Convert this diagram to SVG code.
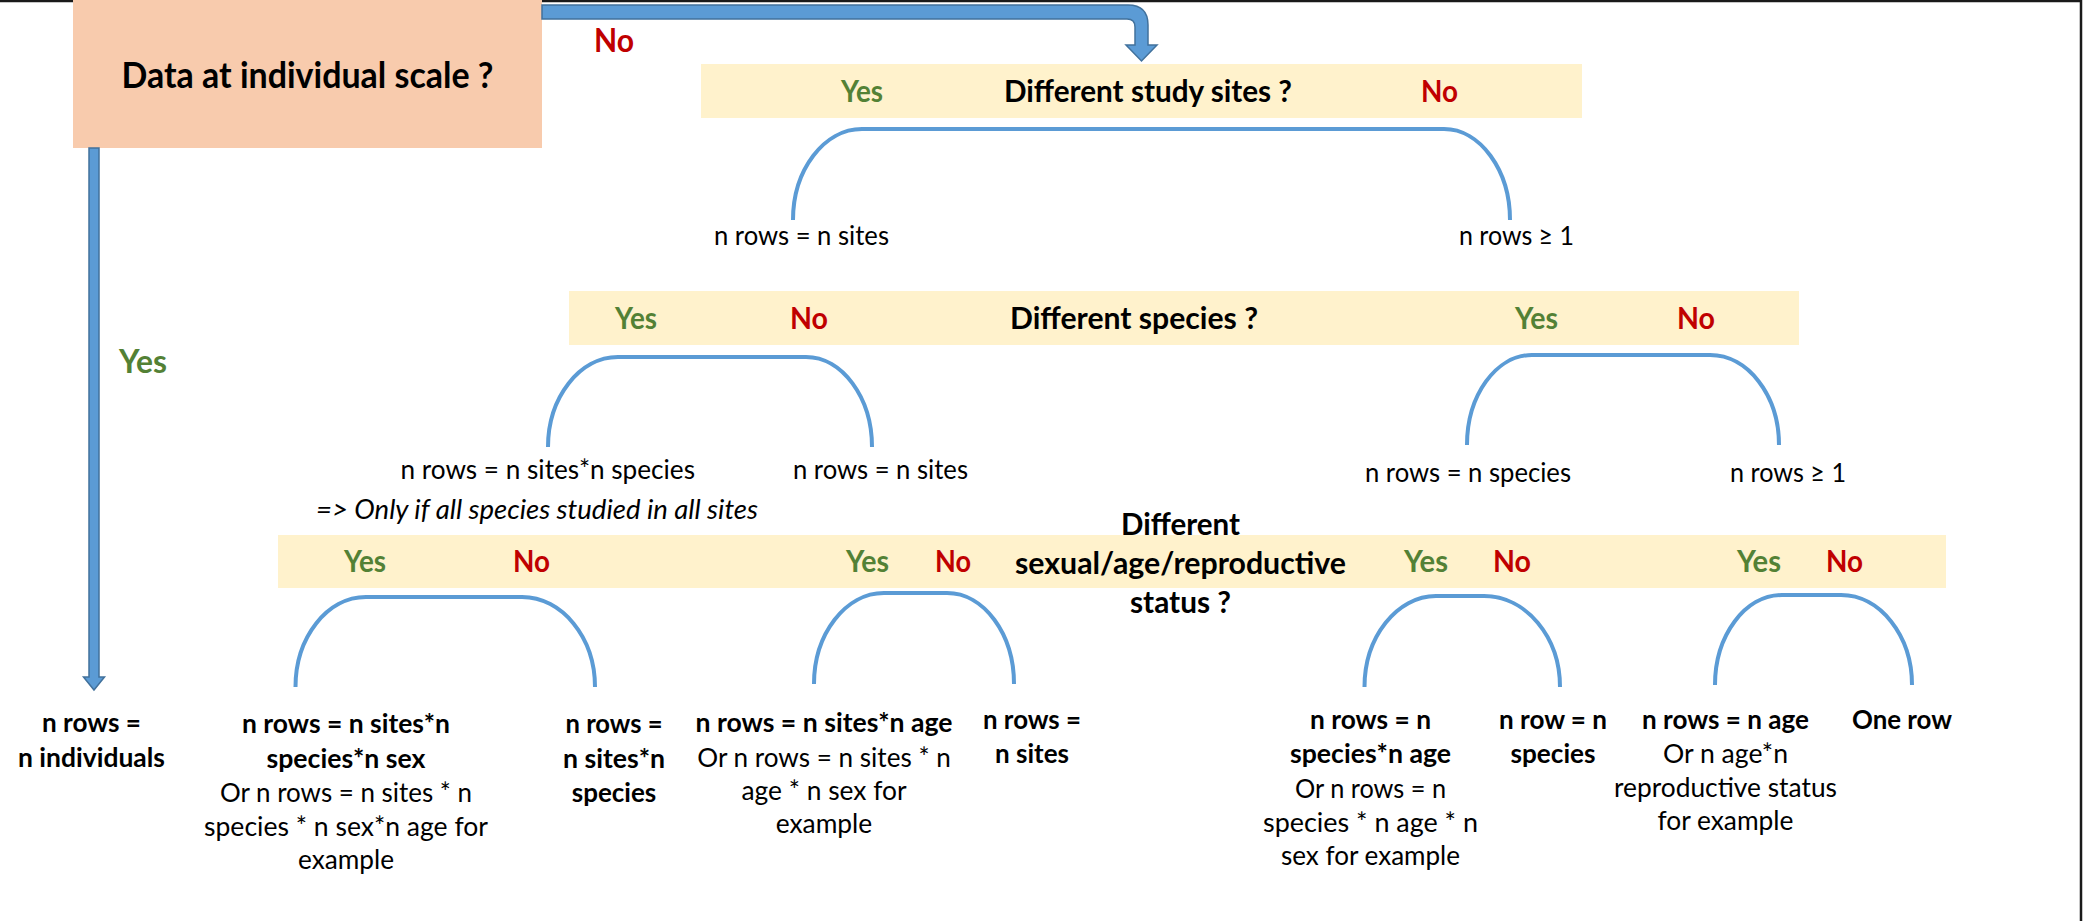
<svg xmlns="http://www.w3.org/2000/svg" width="2085" height="921" viewBox="0 0 2085 921">
<style>
text{font-family:Lato,"Open Sans","Liberation Sans",sans-serif;fill:#000}
.t{font-weight:bold;font-size:35.5px;text-anchor:middle}
.q{font-weight:bold;font-size:31px}
.qm{font-weight:bold;font-size:31px;text-anchor:middle}
.y{font-weight:bold;font-size:30.5px;fill:#538135}
.n{font-weight:bold;font-size:30.5px;fill:#C00000}
.ybig{font-weight:bold;font-size:33px;fill:#538135}
.r{font-size:27.5px}
.rm{font-size:27.5px;text-anchor:middle}
.bm{font-size:27.5px;font-weight:bold;text-anchor:middle}
.it{font-size:27.5px;font-style:italic}
.band{fill:#FFF2CC}
.arc{fill:none;stroke:#5B9BD5;stroke-width:4}
.blk{fill:#5B9BD5;stroke:#41719C;stroke-width:1.5}
</style>
<rect width="2085" height="921" fill="#fff"/>
<g id="frame">
<line x1="0" y1="1" x2="2082" y2="1" stroke="#1a1a1a" stroke-width="2.5"/>
<line x1="2081" y1="0" x2="2081" y2="921" stroke="#1a1a1a" stroke-width="2.5"/>
</g>
<g id="node-root">
<rect x="73" y="0" width="469" height="148" fill="#F8CBAD"/>
<text class="t" x="307.5" y="88" textLength="372" lengthAdjust="spacingAndGlyphs">Data at individual scale ?</text>
</g>
<g id="node-sites">
<rect class="band" x="701" y="64" width="881" height="54"/>
<text class="y" x="841" y="102" textLength="42" lengthAdjust="spacingAndGlyphs">Yes</text>
<text class="q" x="1004" y="102" textLength="288" lengthAdjust="spacingAndGlyphs">Different study sites ?</text>
<text class="n" x="1421" y="102" textLength="37" lengthAdjust="spacingAndGlyphs">No</text>
</g>
<g id="node-species">
<rect class="band" x="569" y="291" width="1230" height="54"/>
<text class="y" x="615" y="329" textLength="42" lengthAdjust="spacingAndGlyphs">Yes</text>
<text class="n" x="790" y="329" textLength="38" lengthAdjust="spacingAndGlyphs">No</text>
<text class="q" x="1010" y="329" textLength="248" lengthAdjust="spacingAndGlyphs">Different species ?</text>
<text class="y" x="1515" y="329" textLength="43" lengthAdjust="spacingAndGlyphs">Yes</text>
<text class="n" x="1677" y="329" textLength="38" lengthAdjust="spacingAndGlyphs">No</text>
</g>
<g id="node-status">
<rect class="band" x="278" y="535" width="1668" height="53"/>
<text class="y" x="344" y="572" textLength="42" lengthAdjust="spacingAndGlyphs">Yes</text>
<text class="n" x="513" y="572" textLength="37" lengthAdjust="spacingAndGlyphs">No</text>
<text class="y" x="846" y="572" textLength="43" lengthAdjust="spacingAndGlyphs">Yes</text>
<text class="n" x="935" y="572" textLength="36" lengthAdjust="spacingAndGlyphs">No</text>
<text class="y" x="1404" y="572" textLength="44" lengthAdjust="spacingAndGlyphs">Yes</text>
<text class="n" x="1493" y="572" textLength="38" lengthAdjust="spacingAndGlyphs">No</text>
<text class="y" x="1737" y="572" textLength="44" lengthAdjust="spacingAndGlyphs">Yes</text>
<text class="n" x="1826" y="572" textLength="37" lengthAdjust="spacingAndGlyphs">No</text>
<text class="qm" x="1180.5" y="535" textLength="119" lengthAdjust="spacingAndGlyphs">Different</text>
<text class="qm" x="1180.5" y="574" textLength="331" lengthAdjust="spacingAndGlyphs">sexual/age/reproductive</text>
<text class="qm" x="1180.5" y="613" textLength="101" lengthAdjust="spacingAndGlyphs">status ?</text>
</g>
<g id="connectors">
<path class="blk" d="M542 5 H1128 Q1148 5 1148 25 V45 H1157 L1141.5 61 L1126 45 H1135 V27 Q1135 19 1127 19 H542 Z"/>
<path class="blk" d="M89 148 V677 H83.5 L94 690 L104.5 677 H99 V148 Z"/>
<text class="n" x="594" y="52" textLength="40" lengthAdjust="spacingAndGlyphs" style="font-size:33px">No</text>
<text class="ybig" x="119" y="373" textLength="48" lengthAdjust="spacingAndGlyphs">Yes</text>
<path class="arc" d="M793 220 C793 170 824 129 862 129 L1444 129 C1480 129 1510 170 1510 220"/>
<path class="arc" d="M548 447 C548 397.5 579.5 357 618 357 L806 357 C842 357 872 397.5 872 447"/>
<path class="arc" d="M1467 445 C1467 395.5 1496 355 1532 355 L1710 355 C1748 355 1779 395.5 1779 445"/>
<path class="arc" d="M295.5 687 C295.5 637.5 327 597 366 597 L522 597 C562 597 595 637.5 595 687"/>
<path class="arc" d="M814 684 C814 634 845.5 593 884 593 L947 593 C984 593 1014 634 1014 684"/>
<path class="arc" d="M1364.5 687 C1364.5 637 1397 596 1436 596 L1484 596 C1526 596 1560 637 1560 687"/>
<path class="arc" d="M1715 685 C1715 635.5 1745 595 1782 595 L1841 595 C1880 595 1912 635.5 1912 685"/>
</g>
<g id="result-sites-yes">
<text class="r" x="714" y="245" textLength="175" lengthAdjust="spacingAndGlyphs">n rows = n sites</text>
</g>
<g id="result-sites-no">
<text class="r" x="1459" y="245" textLength="115" lengthAdjust="spacingAndGlyphs">n rows ≥ 1</text>
</g>
<g id="result-species-1">
<text class="r" x="400.5" y="479" textLength="294.5" lengthAdjust="spacingAndGlyphs">n rows = n sites*n species</text>
<text class="it" x="316" y="519" textLength="442" lengthAdjust="spacingAndGlyphs">=&gt; Only if all species studied in all sites</text>
</g>
<g id="result-species-2">
<text class="r" x="793" y="479" textLength="175" lengthAdjust="spacingAndGlyphs">n rows = n sites</text>
</g>
<g id="result-species-3">
<text class="r" x="1365" y="482" textLength="206" lengthAdjust="spacingAndGlyphs">n rows = n species</text>
</g>
<g id="result-species-4">
<text class="r" x="1730" y="482" textLength="116" lengthAdjust="spacingAndGlyphs">n rows ≥ 1</text>
</g>
<g id="leaf-individuals">
<text class="bm" x="91.5" y="732" textLength="99" lengthAdjust="spacingAndGlyphs">n rows =</text>
<text class="bm" x="91.5" y="767" textLength="147" lengthAdjust="spacingAndGlyphs">n individuals</text>
</g>
<g id="leaf-1">
<text class="bm" x="346" y="733" textLength="208" lengthAdjust="spacingAndGlyphs">n rows = n sites*n</text>
<text class="bm" x="346" y="768" textLength="159" lengthAdjust="spacingAndGlyphs">species*n sex</text>
<text class="rm" x="346" y="802" textLength="252" lengthAdjust="spacingAndGlyphs">Or n rows = n sites * n</text>
<text class="rm" x="346" y="836" textLength="284" lengthAdjust="spacingAndGlyphs">species * n sex*n age for</text>
<text class="rm" x="346" y="869" textLength="96" lengthAdjust="spacingAndGlyphs">example</text>
</g>
<g id="leaf-2">
<text class="bm" x="614" y="733" textLength="97" lengthAdjust="spacingAndGlyphs">n rows =</text>
<text class="bm" x="614" y="768" textLength="102" lengthAdjust="spacingAndGlyphs">n sites*n</text>
<text class="bm" x="614" y="802" textLength="84.5" lengthAdjust="spacingAndGlyphs">species</text>
</g>
<g id="leaf-3">
<text class="bm" x="824" y="732" textLength="257" lengthAdjust="spacingAndGlyphs">n rows = n sites*n age</text>
<text class="rm" x="824" y="767" textLength="253.5" lengthAdjust="spacingAndGlyphs">Or n rows = n sites * n</text>
<text class="rm" x="824" y="800" textLength="165" lengthAdjust="spacingAndGlyphs">age * n sex for</text>
<text class="rm" x="824" y="833" textLength="96.5" lengthAdjust="spacingAndGlyphs">example</text>
</g>
<g id="leaf-4">
<text class="bm" x="1032" y="729" textLength="98" lengthAdjust="spacingAndGlyphs">n rows =</text>
<text class="bm" x="1032" y="763" textLength="74" lengthAdjust="spacingAndGlyphs">n sites</text>
</g>
<g id="leaf-5">
<text class="bm" x="1370.5" y="729" textLength="121" lengthAdjust="spacingAndGlyphs">n rows = n</text>
<text class="bm" x="1370.5" y="763" textLength="161" lengthAdjust="spacingAndGlyphs">species*n age</text>
<text class="rm" x="1370.5" y="798" textLength="151" lengthAdjust="spacingAndGlyphs">Or n rows = n</text>
<text class="rm" x="1370.5" y="832" textLength="215" lengthAdjust="spacingAndGlyphs">species * n age * n</text>
<text class="rm" x="1370.5" y="865" textLength="179" lengthAdjust="spacingAndGlyphs">sex for example</text>
</g>
<g id="leaf-6">
<text class="bm" x="1553" y="729" textLength="108" lengthAdjust="spacingAndGlyphs">n row = n</text>
<text class="bm" x="1553" y="763" textLength="85" lengthAdjust="spacingAndGlyphs">species</text>
</g>
<g id="leaf-7">
<text class="bm" x="1725.5" y="729" textLength="167" lengthAdjust="spacingAndGlyphs">n rows = n age</text>
<text class="rm" x="1725.5" y="763" textLength="125" lengthAdjust="spacingAndGlyphs">Or n age*n</text>
<text class="rm" x="1725.5" y="797" textLength="223" lengthAdjust="spacingAndGlyphs">reproductive status</text>
<text class="rm" x="1725.5" y="830" textLength="136" lengthAdjust="spacingAndGlyphs">for example</text>
</g>
<g id="leaf-8">
<text class="bm" x="1902" y="729" textLength="100" lengthAdjust="spacingAndGlyphs">One row</text>
</g>
</svg>
